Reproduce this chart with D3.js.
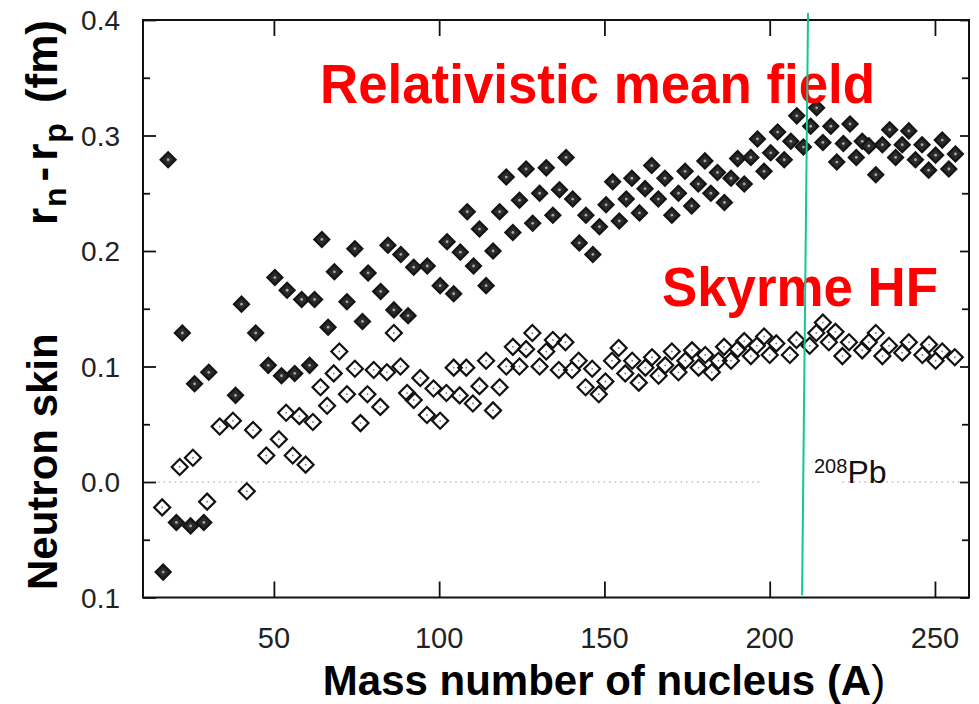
<!DOCTYPE html>
<html>
<head>
<meta charset="utf-8">
<script src="https://cdn.jsdelivr.net/npm/d3@7"></script>
<style>
  body { margin: 0; background: #fff; }
  svg { display: block; }
  text { font-family: "Liberation Sans", Arial, Helvetica, sans-serif; }
</style>
</head>
<body>
<svg id="chart" width="979" height="704"></svg>
<script>
// Relativistic mean field: mass number A and neutron skin r_n - r_p (fm)
const rmfA = [16.5, 18, 20.5, 22.3, 24.8, 26, 28.8, 30.3, 38.4, 40.2, 44.5, 48.3, 50.3, 52.3, 54, 56.3,
  58.4, 60.8, 62.3, 64.5, 66.4, 68.3, 72.1, 74.5, 76.8, 78.5, 82.3, 84.5, 86.3, 88.4, 90.6, 92.3,
  96.4, 100.3, 102.4, 104.4, 106.4, 108.5, 110.4, 112.2, 114.2, 116.3, 118.3, 120.3, 122.3, 124.3,
  126.3, 128.3, 130.4, 132.4, 134.4, 136.4, 138.4, 140.4, 142.4, 144.4, 146.5, 148.5, 150.5, 152.5,
  154.5, 156.6, 158.3, 160.6, 162.3, 164.3, 166.3, 168.3, 170.4, 172.4, 174.4, 176.4, 178.4, 180.4,
  182.2, 184.2, 186.3, 188.3, 190.3, 192.3, 194.3, 196.3, 198.3, 200.3, 202.4, 204.4, 206.4, 208.2,
  210.2, 212.4, 214.2, 216.1, 218.5, 220.3, 222.3, 224.3, 226.2, 228, 230, 232.1, 234.1, 236.3,
  238.1, 240.1, 242.1, 244.1, 246.1, 248.1, 250.2, 252.2, 254.2, 256.2];
const rmfSkin = [-0.078, 0.279, -0.035, 0.129, -0.038, 0.085, -0.035, 0.095, 0.075, 0.154, 0.129, 0.101,
  0.177, 0.092, 0.166, 0.094, 0.158, 0.101, 0.158, 0.210, 0.134, 0.182, 0.156, 0.202, 0.139, 0.181,
  0.165, 0.205, 0.149, 0.197, 0.144, 0.186, 0.187, 0.170, 0.208, 0.163, 0.199, 0.234, 0.187, 0.219,
  0.170, 0.200, 0.234, 0.264, 0.216, 0.244, 0.271, 0.224, 0.250, 0.272, 0.231, 0.253, 0.281, 0.245,
  0.207, 0.231, 0.197, 0.221, 0.240, 0.260, 0.226, 0.245, 0.263, 0.233, 0.254, 0.274, 0.245, 0.263,
  0.231, 0.250, 0.269, 0.239, 0.258, 0.278, 0.250, 0.268, 0.242, 0.263, 0.280, 0.258, 0.281, 0.297,
  0.269, 0.285, 0.303, 0.279, 0.295, 0.317, 0.290, 0.308, 0.324, 0.294, 0.308, 0.277, 0.293, 0.310,
  0.281, 0.295, 0.291, 0.266, 0.292, 0.305, 0.281, 0.292, 0.304, 0.279, 0.292, 0.270, 0.283, 0.296,
  0.271, 0.284];

// Skyrme Hartree-Fock: mass number A and neutron skin r_n - r_p (fm)
const hfA = [16.2, 21.5, 25.5, 29.8, 33.6, 37.6, 41.8, 43.7, 47.7, 51.5, 53.7, 55.7, 57.7, 59.6, 61.8,
  64.1, 66.1, 68.1, 69.8, 72.1, 74.5, 76.2, 78.3, 80.2, 82.2, 84.2, 86.3, 88.3, 90.3, 92.3, 94.3, 96.3,
  98.3, 100.3, 102.2, 104.4, 106.2, 108.2, 110.2, 112.2, 114.2, 116.3, 118.3, 120.3, 122.3, 124.3,
  126.3, 128.2, 130.4, 132.4, 134.4, 136.2, 138.2, 140.2, 142.2, 144.3, 146.3, 148.3, 150.3, 152.3,
  154.3, 156.3, 158.4, 160.4, 162.4, 164.4, 166.4, 168.4, 170.4, 172.4, 174.5, 176.5, 178.5, 180.5,
  182.5, 184.5, 186.2, 188.3, 190.3, 192.3, 194.3, 196.1, 198.3, 200, 202, 206.1, 208.1, 212.1, 214.1,
  216.1, 217.9, 219.9, 222, 224, 228, 230, 232.1, 234.1, 236.1, 240.1, 242.1, 246.2, 248.2, 250.2,
  252.2, 256];
const hfSkin = [-0.022, 0.013, 0.021, -0.017, 0.048, 0.053, -0.008, 0.045, 0.023, 0.037, 0.060, 0.023,
  0.057, 0.015, 0.052, 0.082, 0.066, 0.094, 0.113, 0.076, 0.098, 0.051, 0.076, 0.097, 0.065, 0.095,
  0.129, 0.100, 0.077, 0.071, 0.090, 0.058, 0.081, 0.053, 0.077, 0.099, 0.075, 0.099, 0.068, 0.083,
  0.105, 0.062, 0.082, 0.100, 0.117, 0.100, 0.115, 0.129, 0.100, 0.113, 0.123, 0.097, 0.121, 0.097,
  0.105, 0.082, 0.098, 0.076, 0.087, 0.105, 0.116, 0.094, 0.105, 0.086, 0.099, 0.108, 0.092, 0.101,
  0.113, 0.095, 0.105, 0.114, 0.099, 0.110, 0.095, 0.105, 0.117, 0.105, 0.115, 0.122, 0.109, 0.118,
  0.126, 0.110, 0.120, 0.110, 0.123, 0.118, 0.129, 0.138, 0.121, 0.130, 0.109, 0.121, 0.114, 0.121,
  0.129, 0.109, 0.118, 0.112, 0.121, 0.110, 0.119, 0.105, 0.113, 0.108];

// Axis ticks and their labels
const xTicks = [50, 100, 150, 200, 250];
const yTicks = [0.4, 0.3, 0.2, 0.1, 0.0, -0.1];
const yTickLabels = ["0.4", "0.3", "0.2", "0.1", "0.0", "0.1"];
const yMinorTicks = [0.35, 0.25, 0.15, 0.05, -0.05];

// Reference line at zero, broken around the 208Pb label (A ranges)
const zeroSegments = [[15, 197], [222, 258]];
// 208Pb marker line: A at its top and bottom end, and its skin extent
const leadLineA = [211.6, 209.8];
const leadLineSkin = [0.406, -0.098];

const svg = d3.select("#chart");
const x = d3.scaleLinear().domain([10.4, 260.3]).range([143, 969]);
const y = d3.scaleLinear().domain([-0.1, 0.4]).range([597.5, 20]);

const [x0, x1] = x.range();
const [yb, yt] = y.range();

// Tick marks on all four sides
function ticks(axis, tx, ty) {
  const g = svg.append("g").attr("transform", `translate(${tx},${ty})`).call(axis);
  g.select(".domain").remove();
  g.selectAll("line").attr("stroke", "#111").attr("stroke-width", 1.8);
  g.selectAll("text").remove();
}
ticks(d3.axisTop(x).tickValues(xTicks).tickSize(16), 0, yb);
ticks(d3.axisBottom(x).tickValues(xTicks).tickSize(16), 0, yt);
ticks(d3.axisRight(y).tickValues(yTicks).tickSize(13), x0, 0);
ticks(d3.axisRight(y).tickValues(yMinorTicks).tickSize(7), x0, 0);
ticks(d3.axisLeft(y).tickValues(yTicks).tickSize(9), x1, 0);
ticks(d3.axisLeft(y).tickValues(yMinorTicks).tickSize(7), x1, 0);

// Frame
svg.append("rect")
  .attr("x", x0).attr("y", yt).attr("width", x1 - x0).attr("height", yb - yt)
  .attr("fill", "none").attr("stroke", "#111").attr("stroke-width", 2);

// Dotted zero line
svg.append("g").selectAll("line").data(zeroSegments).join("line")
  .attr("x1", d => x(d[0])).attr("x2", d => x(d[1]))
  .attr("y1", y(0)).attr("y2", y(0))
  .attr("stroke", "#999").attr("stroke-width", 1.2).attr("stroke-dasharray", "1.5,4");

// Tick labels
svg.append("g").selectAll("text").data(xTicks).join("text")
  .attr("x", d => x(d)).attr("y", 648)
  .attr("text-anchor", "middle").attr("font-size", 29).attr("fill", "#222")
  .text(d => d);
svg.append("g").selectAll("text").data(yTicks).join("text")
  .attr("x", 120).attr("y", d => y(d) + 10)
  .attr("text-anchor", "end").attr("font-size", 28).attr("fill", "#222")
  .text((d, i) => yTickLabels[i]);

// Diamond markers
const diamond = d3.symbol().type(d3.symbolSquare);
const hf = hfA.map((a, i) => ({ a, v: hfSkin[i] }));
const rmf = rmfA.map((a, i) => ({ a, v: rmfSkin[i] }));

const hfG = svg.append("g");
hfG.selectAll("path").data(hf).join("path")
  .attr("d", diamond.size(128)())
  .attr("transform", d => `translate(${x(d.a)},${y(d.v)}) rotate(45)`)
  .attr("fill", "none").attr("stroke", "#111").attr("stroke-width", 2.2);
hfG.selectAll("circle").data(hf).join("circle")
  .attr("cx", d => x(d.a)).attr("cy", d => y(d.v)).attr("r", 0.9).attr("fill", "#777");

const rmfG = svg.append("g");
rmfG.selectAll("path").data(rmf).join("path")
  .attr("d", diamond.size(112)())
  .attr("transform", d => `translate(${x(d.a)},${y(d.v)}) rotate(45)`)
  .attr("fill", "#2a2a2a").attr("stroke", "#141414").attr("stroke-width", 2.2);
rmfG.selectAll("circle").data(rmf).join("circle")
  .attr("cx", d => x(d.a)).attr("cy", d => y(d.v)).attr("r", 1.4).attr("fill", "#a8a8a8");

// Model names
svg.append("text").attr("x", 320).attr("y", 103)
  .attr("font-size", 55).attr("font-weight", "bold").attr("fill", "#ff0000")
  .attr("textLength", 555).attr("lengthAdjust", "spacingAndGlyphs")
  .text("Relativistic mean field");
svg.append("text").attr("x", 662).attr("y", 306)
  .attr("font-size", 55).attr("font-weight", "bold").attr("fill", "#ff0000")
  .attr("textLength", 276).attr("lengthAdjust", "spacingAndGlyphs")
  .text("Skyrme HF");

// 208Pb label
const pb = svg.append("text").attr("x", 814).attr("y", 483).attr("font-size", 32).attr("fill", "#111");
pb.append("tspan").attr("font-size", 20).attr("dy", -10).text("208");
pb.append("tspan").attr("dy", 10).text("Pb");

// Axis titles
const xt = svg.append("text").attr("x", 604).attr("y", 695)
  .attr("text-anchor", "middle").attr("font-size", 42).attr("font-weight", "bold").attr("fill", "#000");
xt.append("tspan").text("Mass number of nucleus (A");
xt.append("tspan").attr("font-weight", "normal").text(")");

const yg = svg.append("g").attr("transform", "translate(57,0) rotate(-90)");
yg.append("text").attr("x", -590).attr("y", 0)
  .attr("font-size", 42).attr("font-weight", "bold").attr("fill", "#000")
  .text("Neutron skin");
const yt2 = yg.append("text").attr("x", -20).attr("y", 0).attr("text-anchor", "end")
  .attr("font-size", 44).attr("font-weight", "bold").attr("fill", "#000");
yt2.append("tspan").text("r");
yt2.append("tspan").attr("font-size", 32).attr("dx", 1).attr("dy", 9).text("n");
yt2.append("tspan").attr("dx", 6).attr("dy", -9).text("-");
yt2.append("tspan").attr("dx", 6).text("r");
yt2.append("tspan").attr("font-size", 32).attr("dx", 1).attr("dy", 9).text("p");
yt2.append("tspan").attr("dx", 20).attr("dy", -9).text("(fm)");

// 208Pb marker line
svg.append("line")
  .attr("x1", x(leadLineA[0])).attr("y1", y(leadLineSkin[0]))
  .attr("x2", x(leadLineA[1])).attr("y2", y(leadLineSkin[1]))
  .attr("stroke", "#14c796").attr("stroke-width", 2);
</script>
</body>
</html>
